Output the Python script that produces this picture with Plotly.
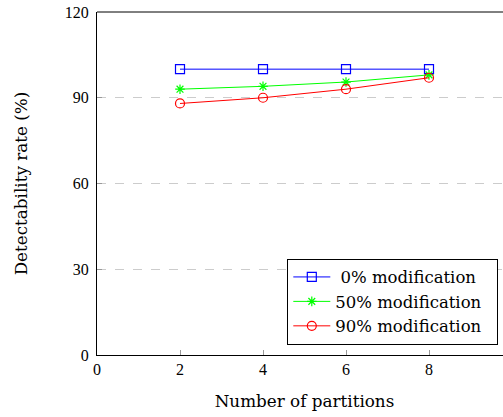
import plotly.graph_objects as go

partitions = [2, 4, 6, 8]
mod0 = [100, 100, 100, 100]
mod50 = [93, 94, 95.5, 98]
mod90 = [88, 90, 93, 97]
series_names = ["\u20080% modification", "50% modification", "90% modification"]
yticks = [0, 30, 60, 90, 120]
xticks = [0, 2, 4, 6, 8]

LABEL_FONT = "DejaVu Serif"
TICK_FONT = "Liberation Serif"
PAD = "\u00a0\u00a0"

fig = go.Figure()
fig.add_trace(go.Scatter(x=partitions, y=mod0, mode="lines+markers", name=series_names[0] + PAD,
                         line=dict(color="#0000ff", width=1),
                         marker=dict(symbol="square-open", size=9, color="#0000ff", line=dict(width=1.2))))
fig.add_trace(go.Scatter(x=partitions, y=mod50, mode="lines+markers", name=series_names[1] + PAD,
                         line=dict(color="#00ff00", width=1),
                         marker=dict(symbol="asterisk-open", size=8, color="#00ff00", line=dict(width=1.2, color="#00ff00"))))
fig.add_trace(go.Scatter(x=partitions, y=mod90, mode="lines+markers", name=series_names[2] + PAD,
                         line=dict(color="#ff0000", width=1),
                         marker=dict(symbol="circle-open", size=9, color="#ff0000", line=dict(width=1.2))))

fig.update_layout(
    width=512, height=417,
    margin=dict(l=97, r=0, t=12, b=62),
    paper_bgcolor="white", plot_bgcolor="white",
    font=dict(family=LABEL_FONT, size=16, color="black"),
    showlegend=True, hovermode=False,
    legend=dict(x=0.967, y=0.03, xanchor="right", yanchor="bottom",
                bordercolor="black", borderwidth=1, bgcolor="white", itemwidth=37,
                font=dict(family=LABEL_FONT, size=16.5), tracegroupgap=0),
    xaxis=dict(range=[0, 10], tickvals=xticks, ticks="inside", ticklen=5, tickcolor="#999999",
               showline=True, linecolor="black", linewidth=1, mirror=False,
               showgrid=False, zeroline=False,
               tickfont=dict(family=TICK_FONT, size=16),
               title=dict(text="Number of partitions", font=dict(family=LABEL_FONT, size=16.8), standoff=18)),
    yaxis=dict(range=[0, 120], tickvals=yticks, ticks="inside", ticklen=5, tickcolor="#999999",
               showline=True, linecolor="black", linewidth=1, mirror=False,
               showgrid=True, gridcolor="#cccccc", griddash="dash", gridwidth=1,
               zeroline=False, ticklabelstandoff=4,
               tickfont=dict(family=TICK_FONT, size=16),
               title=dict(text="Detectability rate (%)", font=dict(family=LABEL_FONT, size=16.8), standoff=32)),
)
# top frame line of the axis box
fig.add_shape(type="line", xref="paper", yref="paper", x0=0, x1=1, y0=1, y1=1,
              line=dict(color="black", width=1))

fig.write_html("out.html", config={"displayModeBar": False},
               post_script="document.body.style.margin='0px';document.body.style.overflow='hidden';")
